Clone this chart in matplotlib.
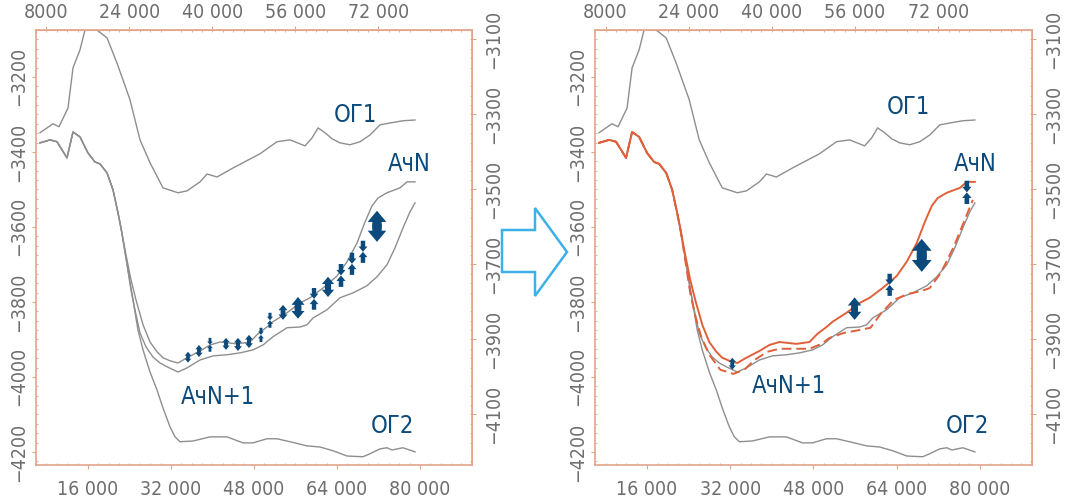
import matplotlib.pyplot as plt
from matplotlib.patches import FancyArrowPatch, Polygon, ArrowStyle
from matplotlib.ticker import MultipleLocator

plt.rcParams['font.family'] = ['DejaVu Sans']
plt.rcParams['font.stretch'] = 'condensed'

# ---- data ----
# shared start of the lower horizons (before they split)
shared_x = [6750, 8680, 10030, 11950, 13110, 14460, 16000, 17350, 18320, 19670, 20820, 21790, 22365]
shared_y = [-3376, -3368, -3373, -3416, -3347, -3360, -3403, -3427, -3432, -3456, -3501, -3563, -3603]

og1_x = [6750, 9250, 10410, 12150, 13110, 14460, 15420, 16000, 16970, 17740, 19670, 21590, 24100,
         26030, 27960, 30460, 33350, 35090, 37600, 38950, 40870, 43960, 49160, 52440, 54950, 57840,
         59190, 60350, 61700, 63050, 64590, 66520, 68440, 70370, 72300, 74230, 76730, 79050]
og1_y = [-3349, -3325, -3333, -3283, -3176, -3128, -3075, -3053, -3048, -3075, -3096, -3163, -3261,
         -3368, -3429, -3496, -3509, -3504, -3480, -3459, -3467, -3443, -3405, -3373, -3368, -3384,
         -3363, -3336, -3349, -3365, -3376, -3381, -3373, -3355, -3328, -3323, -3317, -3315]

og2_x = [23330, 24100, 24680, 25640, 26610, 27960, 29310, 30460, 31810, 32780, 33740, 36250, 39520,
         42800, 45890, 47810, 50510, 52440, 54950, 58230, 60730, 63240, 65940, 69020, 70370, 72300,
         73650, 74610, 76730, 79050]
og2_y = [-3683, -3747, -3795, -3875, -3928, -3987, -4035, -4083, -4133, -4160, -4173, -4171, -4160,
         -4160, -4176, -4176, -4165, -4165, -4173, -4184, -4187, -4197, -4211, -4213, -4205, -4192,
         -4189, -4195, -4189, -4200]

achn_x = [23330, 24290, 25260, 26610, 27960, 29310, 30460, 31810, 33350, 35090, 37600, 39520, 41450,
          44730, 47240, 48780, 50510, 51670, 54370, 56880, 58810, 61310, 64010, 65940, 67870, 69410,
          70760, 71910, 73650, 76160, 77510, 79050]
achn_y = [-3675, -3741, -3795, -3861, -3907, -3933, -3949, -3957, -3963, -3949, -3931, -3915, -3907,
          -3912, -3907, -3885, -3867, -3853, -3829, -3803, -3789, -3763, -3731, -3693, -3643, -3587,
          -3544, -3523, -3509, -3496, -3480, -3480]

achn1_x = [23330, 24290, 25060, 26030, 27180, 28530, 29880, 31230, 33350, 35090, 37600, 40100, 42800,
           45310, 47810, 49740, 51670, 54370, 56880, 58230, 59380, 62080, 64590, 67090, 69790, 71720,
           73650, 75190, 76730, 78080, 79050]
achn1_y = [-3683, -3768, -3821, -3883, -3920, -3947, -3963, -3973, -3987, -3976, -3955, -3944, -3941,
           -3936, -3928, -3915, -3893, -3869, -3867, -3861, -3843, -3821, -3789, -3776, -3757, -3733,
           -3701, -3656, -3603, -3560, -3536]

# corrected АчN+1 (right panel, dashed)
achn1_new_x = [23330, 24290, 25260, 26410, 27960, 30080, 32580, 34710, 36640, 39140, 41450, 44340,
               47240, 49550, 51090, 53790, 56880, 58980, 60930, 63430, 66130, 68830, 70370, 72490,
               74990, 76930, 78660]
achn1_new_y = [-3688, -3776, -3837, -3893, -3941, -3981, -3992, -3981, -3955, -3933, -3925, -3925,
               -3925, -3912, -3896, -3883, -3875, -3869, -3832, -3795, -3779, -3771, -3763, -3723,
               -3653, -3587, -3528]

# thickness arrows: x, top, bottom, kind (d = both ways, c = converging)
arr_left_x = [35280, 37400, 39520, 42610, 44920, 47040, 49350, 51090, 53600, 56490, 59580, 62280,
              64780, 66900, 69020, 71720]
arr_left_top = [-3933, -3915, -3896, -3896, -3896, -3888, -3869, -3829, -3808, -3787, -3763, -3733,
                -3699, -3669, -3637, -3557]
arr_left_bot = [-3962, -3947, -3933, -3928, -3931, -3923, -3907, -3869, -3848, -3845, -3821, -3787,
                -3760, -3728, -3696, -3640]
arr_left_kind = ['d', 'd', 'c', 'd', 'd', 'd', 'c', 'c', 'd', 'd', 'c', 'd', 'c', 'c', 'c', 'd']

arr_right_x = [32390, 55910, 62660, 68830, 77510]
arr_right_top = [-3949, -3788, -3725, -3632, -3477]
arr_right_bot = [-3981, -3848, -3784, -3720, -3539]
arr_right_kind = ['d', 'd', 'c', 'd', 'c']

bottom_ticks = [16000, 32000, 48000, 64000, 80000]
bottom_labels = ['16 000', '32 000', '48 000', '64 000', '80 000']
top_ticks = [8000, 24000, 40000, 56000, 72000]
top_labels = ['8000', '24 000', '40 000', '56 000', '72 000']
left_ticks = [-3200, -3400, -3600, -3800, -4000, -4200]
left_labels = ['\u22123200', '\u22123400', '\u22123600', '\u22123800', '\u22124000', '\u22124200']
right_ticks = [-3100, -3300, -3500, -3700, -3900, -4100]
right_labels = ['\u22123100', '\u22123300', '\u22123500', '\u22123700', '\u22123900', '\u22124100']

labels_left = [('ОГ1', 67470, -3302), ('АчN', 77900, -3432), ('АчN+1', 41100, -4053), ('ОГ2', 74650, -4131)]
labels_right = [('ОГ1', 66330, -3280), ('АчN', 79050, -3432), ('АчN+1', 43380, -4024), ('ОГ2', 77700, -4131)]

GRAY = '#8e8e8e'
RED = '#e0603a'
BLUE = '#0b4a7b'
FRAME = '#e3a48c'
TICKC = '#6e6e6e'

W, H = 1073, 499
fig = plt.figure(figsize=(W / 100, H / 100), dpi=100)


def style_axes(ax):
    ax.set_xlim(5977, 90038)
    ax.set_ylim(-4235, -3075)
    for s in ax.spines.values():
        s.set_color(FRAME)
        s.set_linewidth(1.2)
    ax.set_xticks(bottom_ticks)
    ax.set_xticklabels(bottom_labels)
    ax.set_yticks(left_ticks)
    ax.set_yticklabels(left_labels, rotation=90, va='center')
    ax.xaxis.set_minor_locator(MultipleLocator(2000))
    ax.yaxis.set_minor_locator(MultipleLocator(25))
    ax.tick_params(which='major', length=3, color=FRAME, labelcolor=TICKC, labelsize=14)
    ax.tick_params(axis='x', which='major', pad=8)
    ax.tick_params(axis='y', which='major', pad=3)
    ax.tick_params(which='minor', length=1.5, color=FRAME, direction='in',
                   top=True, right=True, bottom=True, left=True)
    sx = ax.secondary_xaxis('top')
    sx.set_xticks(top_ticks)
    sx.set_xticklabels(top_labels)
    sx.tick_params(length=3, color=FRAME, labelcolor=TICKC, labelsize=14, pad=3)
    sx.spines['top'].set_color(FRAME)
    sy = ax.secondary_yaxis('right')
    sy.set_yticks(right_ticks)
    sy.set_yticklabels(right_labels, rotation=90, va='center')
    sy.tick_params(length=3, color=FRAME, labelcolor=TICKC, labelsize=14, pad=6)
    sy.spines['right'].set_color(FRAME)


def draw_arrows(ax, xs, tops, bots, kinds):
    style = ArrowStyle('simple', head_length=0.6, head_width=1.0, tail_width=0.5)
    for x, t, b, k in zip(xs, tops, bots, kinds):
        span_px = (t - b) * 0.375
        mid = (t + b) / 2
        if k == 'd':
            hw = 0.6 * span_px
            ov = (t - b) * 0.08
            ends = [(mid - ov, t), (mid + ov, b)]
        else:
            hw = 0.4 * span_px
            ends = [(t, mid), (b, mid)]
        for y0, y1 in ends:
            p = FancyArrowPatch((x, y0), (x, y1), arrowstyle=style,
                                mutation_scale=hw * 0.72, color=BLUE, lw=0,
                                shrinkA=0, shrinkB=0, zorder=5)
            ax.add_patch(p)


def draw_labels(ax, labels):
    for txt, x, y in labels:
        ax.text(x, y, txt, color=BLUE, fontsize=17, ha='center', va='center', zorder=6)


# ---- left panel ----
ax1 = fig.add_axes([36 / W, 34 / H, 436 / W, 435 / H])
style_axes(ax1)
lw = 1.0
ax1.plot(og1_x, og1_y, color=GRAY, lw=lw)
ax1.plot(shared_x + og2_x, shared_y + og2_y, color=GRAY, lw=lw)
ax1.plot(shared_x + achn_x, shared_y + achn_y, color=GRAY, lw=lw)
ax1.plot(shared_x + achn1_x, shared_y + achn1_y, color=GRAY, lw=lw)
draw_arrows(ax1, arr_left_x, arr_left_top, arr_left_bot, arr_left_kind)
draw_labels(ax1, labels_left)

# ---- right panel ----
ax2 = fig.add_axes([595 / W, 34 / H, 437 / W, 435 / H])
style_axes(ax2)
ax2.plot(og1_x, og1_y, color=GRAY, lw=lw)
ax2.plot(shared_x + og2_x, shared_y + og2_y, color=GRAY, lw=lw)
ax2.plot(shared_x + achn1_x, shared_y + achn1_y, color=GRAY, lw=lw)
ax2.plot(shared_x + achn1_new_x, shared_y + achn1_new_y, color=RED, lw=1.4, dashes=(5, 2.5))
ax2.plot(shared_x + achn_x, shared_y + achn_y, color=RED, lw=1.4)
draw_arrows(ax2, arr_right_x, arr_right_top, arr_right_bot, arr_right_kind)
draw_labels(ax2, labels_right)

# ---- outline arrow between panels ----
pts = [(502, 230), (535, 230), (535, 208), (567, 252), (535, 296), (535, 272), (502, 272)]
arrow = Polygon([(px / W, 1 - py / H) for px, py in pts], closed=True, fill=False,
                edgecolor='#3db0e8', lw=1.8, transform=fig.transFigure)
fig.patches.append(arrow)

fig.savefig('out.png', dpi=100)
